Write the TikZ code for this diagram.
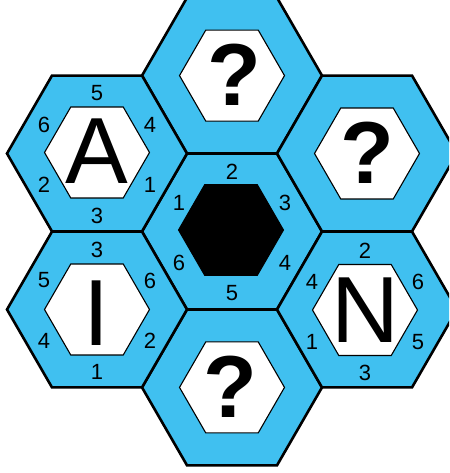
\documentclass[tikz,border=0pt]{standalone}
\usepackage{fontspec}
\setmainfont{Liberation Sans}
\definecolor{hexblue}{RGB}{64,192,240}
\newcommand\hexshape[4]{\path[#1] (#2,#3) ++(0:#4) -- ++(120:#4) -- ++(180:#4) -- ++(240:#4) -- ++(300:#4) -- ++(0:#4) -- cycle;}
\newcommand\hexnums[9]{%
 \node[num] (#1t) at (#2,#3-60) {#4};
 \node[num] (#1ul) at (#2-53,#3-29) {#5};
 \node[num] (#1ur) at (#2+53,#3-29) {#6};
 \node[num] (#1ll) at (#2-53,#3+31) {#7};
 \node[num] (#1lr) at (#2+53,#3+31) {#8};
 \node[num] (#1b) at (#2,#3+62) {#9};}
\begin{document}
\begin{tikzpicture}[x=1pt,y=-1pt,
  outerhex/.style={fill=hexblue,draw=black,line width=2.6pt,line join=miter},
  innerhex/.style={fill=white,draw=black,line width=1.1pt},
  blackhex/.style={fill=black,draw=black,line width=1pt},
  num/.style={font=\fontsize{22}{22}\selectfont,inner sep=0pt},
  big/.style={font=\fontsize{94}{94}\selectfont,inner sep=0pt},
  qm/.style={font=\fontsize{88}{88}\selectfont\bfseries,inner sep=0pt}]
\useasboundingbox (0,0) rectangle (449,473);
\clip (0,0) rectangle (449,473);
% outer hexagons
\hexshape{outerhex}{232}{231.5}{90}
\hexshape{outerhex}{232}{75.6}{90}
\hexshape{outerhex}{232}{387.4}{90}
\hexshape{outerhex}{97}{153.5}{90}
\hexshape{outerhex}{97}{309.5}{90}
\hexshape{outerhex}{367}{153.5}{90}
\hexshape{outerhex}{367}{309.5}{90}
% inner hexagons
\hexshape{blackhex}{231}{230}{52.5}
\hexshape{innerhex}{232}{75.6}{52.5}
\hexshape{innerhex}{232}{387.4}{52.5}
\hexshape{innerhex}{97}{152.5}{52.5}
\hexshape{innerhex}{97}{309.5}{52.5}
\hexshape{innerhex}{367}{153.5}{52.5}
\hexshape{innerhex}{365}{310}{52.5}
% letters
\node[big] (la) at (97,151) {A};
\node[big] (li) at (97,313) {I};
\node[big] (ln) at (365,310) {N};
\node[qm] (qt) at (234,75) {?};
\node[qm] (qr) at (367,153) {?};
\node[qm] (qb) at (230,387) {?};
% numbers
\hexnums{a}{97}{153.5}{5}{6}{4}{2}{1}{3}
\hexnums{c}{232}{231.5}{2}{1}{3}{6}{4}{5}
\hexnums{n}{365}{311}{2}{4}{6}{1}{5}{3}
\hexnums{i}{97}{309.5}{3}{5}{6}{4}{2}{1}
\end{tikzpicture}
\end{document}
